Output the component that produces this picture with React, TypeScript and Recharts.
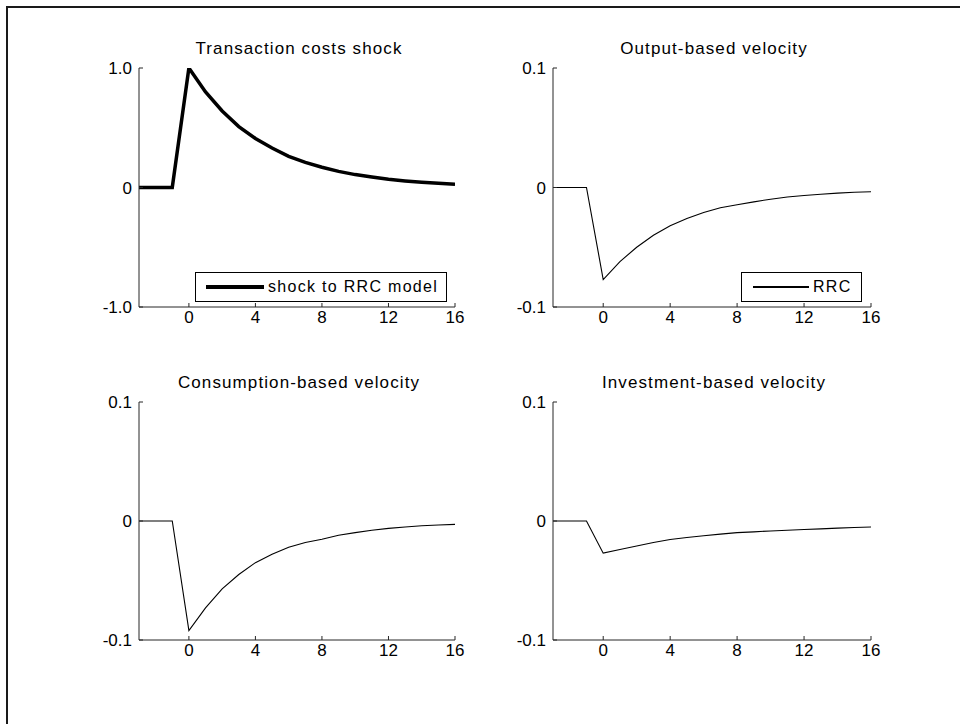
import { Legend, Line, LineChart, XAxis, YAxis } from 'recharts';

// quarters after the shock
const periods = [-3, -2, -1, 0, 1, 2, 3, 4, 5, 6, 7, 8, 9, 10, 11, 12, 13, 14, 15, 16];

const shockRRC = [
  0, 0, 0, 1.0, 0.8, 0.64, 0.51, 0.41, 0.33, 0.26, 0.21, 0.17, 0.135, 0.108, 0.087, 0.069,
  0.055, 0.044, 0.035, 0.028,
];
const outputVelocity = [
  0, 0, 0, -0.077, -0.062, -0.05, -0.04, -0.032, -0.026, -0.021, -0.017, -0.0145, -0.012,
  -0.0098, -0.008, -0.0067, -0.0056, -0.0047, -0.004, -0.0036,
];
const consumptionVelocity = [
  0, 0, 0, -0.092, -0.073, -0.057, -0.045, -0.035, -0.028, -0.022, -0.018, -0.0154, -0.012,
  -0.0098, -0.0078, -0.0062, -0.005, -0.004, -0.0033, -0.0028,
];
const investmentVelocity = [
  0, 0, 0, -0.027, -0.024, -0.021, -0.018, -0.0155, -0.0138, -0.0124, -0.011, -0.0098,
  -0.0091, -0.0084, -0.0078, -0.0072, -0.0066, -0.006, -0.0055, -0.005,
];

const xTicks = [0, 4, 8, 12, 16];
const shockTicks = [-1, 0, 1];
const velocityTicks = [-0.1, 0, 0.1];

const FONT = '"Liberation Sans", Arial, Helvetica, sans-serif';
const AXIS = '#262626';

type Box = { left: number; top: number; right: number; bottom: number };

interface PanelProps {
  title: string;
  values: number[];
  name: string;
  plot: Box;
  domain: [number, number];
  yTicks: number[];
  fmt: (v: number) => string;
  strokeWidth: number;
  legend?: { box: Box; sampleLeft: number; sampleRight: number };
}

const Panel = ({ title, values, name, plot, domain, yTicks, fmt, strokeWidth, legend }: PanelProps) => {
  const data = periods.map((t, i) => ({ t, v: values[i] }));
  const mLeft = 10;
  const yW = 50;
  const mTop = 50;
  const mRight = 15;
  const xH = 30;
  const mBottom = 10;
  const chartLeft = plot.left - mLeft - yW;
  const chartTop = plot.top - mTop;
  const width = plot.right - plot.left + mLeft + yW + mRight;
  const height = plot.bottom - plot.top + mTop + xH + mBottom;

  return (
    <>
      <div
        style={{
          position: 'absolute',
          left: plot.left + 2,
          width: plot.right - plot.left,
          top: plot.top - 29,
          textAlign: 'center',
          fontSize: 17,
          letterSpacing: 1.1,
          color: '#000',
          lineHeight: '20px',
        }}>
        {title}
      </div>
      <div style={{ position: 'absolute', left: chartLeft, top: chartTop }}>
        <LineChart
          width={width}
          height={height}
          data={data}
          margin={{ top: mTop, right: mRight, left: mLeft, bottom: mBottom }}>
          <XAxis
            type="number"
            dataKey="t"
            domain={[-3, 16]}
            ticks={xTicks}
            interval={0}
            allowDataOverflow
            height={xH}
            tickSize={-4}
            tickMargin={8}
            axisLine={{ stroke: AXIS }}
            tickLine={{ stroke: AXIS }}
            tick={{ fontSize: 17, fill: '#000', fontFamily: FONT }}
          />
          <YAxis
            type="number"
            domain={domain}
            ticks={yTicks}
            interval={0}
            allowDataOverflow
            width={yW}
            tickSize={-4}
            tickMargin={11}
            tickFormatter={fmt}
            axisLine={{ stroke: AXIS }}
            tickLine={{ stroke: AXIS }}
            tick={{ fontSize: 17, fill: '#000', fontFamily: FONT }}
          />
          {legend && (
            <Legend
              layout="horizontal"
              verticalAlign="middle"
              align="center"
              wrapperStyle={{
                left: legend.box.left - chartLeft,
                top: legend.box.top - chartTop,
                width: legend.box.right - legend.box.left,
                height: legend.box.bottom - legend.box.top,
                bottom: 'auto',
                right: 'auto',
              }}
              content={() => (
                <div
                  style={{
                    position: 'relative',
                    boxSizing: 'border-box',
                    width: legend.box.right - legend.box.left,
                    height: legend.box.bottom - legend.box.top,
                    border: '1px solid #000',
                    background: '#fff',
                    fontFamily: FONT,
                  }}>
                  <div
                    style={{
                      position: 'absolute',
                      left: legend.sampleLeft - legend.box.left,
                      width: legend.sampleRight - legend.sampleLeft,
                      top: (legend.box.bottom - legend.box.top) / 2 - 1 - strokeWidth / 2,
                      height: strokeWidth,
                      background: '#000',
                    }}
                  />
                  <div
                    style={{
                      position: 'absolute',
                      left: legend.sampleRight - legend.box.left + 4,
                      top: 4,
                      fontSize: 16,
                      letterSpacing: 1.3,
                      lineHeight: '20px',
                      whiteSpace: 'nowrap',
                    }}>
                    {name}
                  </div>
                </div>
              )}
            />
          )}
          <Line
            type="linear"
            dataKey="v"
            name={name}
            stroke="#000"
            strokeWidth={strokeWidth}
            dot={false}
            isAnimationActive={false}
          />
        </LineChart>
      </div>
    </>
  );
};

const fmtShock = (v: number) => (v === 0 ? '0' : v.toFixed(1));
const fmtVel = (v: number) => (v === 0 ? '0' : v.toFixed(1));

export default function App() {
  return (
    <div
      style={{
        position: 'absolute',
        left: 0,
        top: 0,
        width: 960,
        height: 724,
        background: '#fff',
        fontFamily: FONT,
        overflow: 'hidden',
      }}>
      <div
        style={{
          position: 'absolute',
          left: 6,
          top: 6,
          width: 960,
          height: 724,
          borderTop: '2px solid #1a1a1a',
          borderLeft: '2px solid #1a1a1a',
        }}
      />
      <Panel
        title="Transaction costs shock"
        values={shockRRC}
        name="shock to RRC model"
        plot={{ left: 139, top: 68, right: 455, bottom: 307 }}
        domain={[-1, 1]}
        yTicks={shockTicks}
        fmt={fmtShock}
        strokeWidth={3.5}
        legend={{ box: { left: 195, top: 272, right: 447, bottom: 302 }, sampleLeft: 205, sampleRight: 263 }}
      />
      <Panel
        title="Output-based velocity"
        values={outputVelocity}
        name="RRC"
        plot={{ left: 553, top: 68, right: 871, bottom: 307 }}
        domain={[-0.1, 0.1]}
        yTicks={velocityTicks}
        fmt={fmtVel}
        strokeWidth={1.1}
        legend={{ box: { left: 741, top: 272, right: 862, bottom: 302 }, sampleLeft: 752, sampleRight: 808 }}
      />
      <Panel
        title="Consumption-based velocity"
        values={consumptionVelocity}
        name="RRC"
        plot={{ left: 139, top: 402, right: 455, bottom: 640 }}
        domain={[-0.1, 0.1]}
        yTicks={velocityTicks}
        fmt={fmtVel}
        strokeWidth={1.1}
      />
      <Panel
        title="Investment-based velocity"
        values={investmentVelocity}
        name="RRC"
        plot={{ left: 553, top: 402, right: 871, bottom: 640 }}
        domain={[-0.1, 0.1]}
        yTicks={velocityTicks}
        fmt={fmtVel}
        strokeWidth={1.1}
      />
    </div>
  );
}
